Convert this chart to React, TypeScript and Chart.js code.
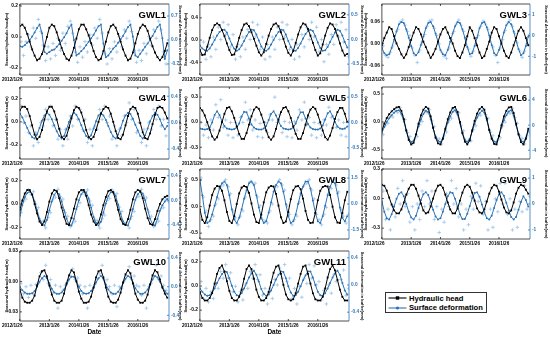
import React, { useEffect, useRef } from 'react';
import { Chart, registerables } from 'chart.js';
Chart.register(...registerables);

// ---------- shared axis data ----------
const dateTicks = [0, 12, 24, 36, 48];
const dateLabels = ['2012/1/26', '2013/1/26', '2014/1/26', '2015/1/26', '2016/1/26'];
const xMax = 60.7;

// ---------- GWL1 ----------
const gwl1Head = [0.07,0.08,0.06,0.02,-0.03,-0.08,-0.12,-0.15,-0.14,-0.11,-0.06,0.00,0.06,0.08,0.07,0.03,-0.02,-0.07,-0.11,-0.14,-0.15,-0.12,-0.07,-0.01,0.05,0.08,0.08,0.05,0.01,-0.04,-0.09,-0.13,-0.15,-0.14,-0.09,-0.03,0.03,0.07,0.08,0.06,0.02,-0.03,-0.08,-0.12,-0.15,-0.14,-0.10,-0.04,0.02,0.06,0.08,0.07,0.04,-0.01,-0.06,-0.10,-0.13,-0.15,-0.13,-0.09,-0.04];
const gwl1Def = [-0.18,-0.2,-0.15,-0.08,0.0,0.1,0.22,0.35,0.45,0.2,-0.35,-0.4,-0.35,-0.3,-0.28,-0.2,-0.12,-0.02,0.08,0.2,0.35,0.45,0.0,-0.45,-0.4,-0.32,-0.25,-0.15,-0.05,0.05,0.15,0.28,0.4,0.45,-0.1,-0.5,-0.45,-0.35,-0.25,-0.18,-0.08,0.02,0.12,0.25,0.38,0.45,0.1,-0.45,-0.5,-0.4,-0.3,-0.2,-0.1,0.0,0.12,0.25,0.38,0.45,0.05,-0.55,-0.3];
const gwl1Raw = [-0.05,-0.45,-0.05,0.15,-0.2,0.35,0.05,0.6,0.25,-0.15,-0.6,-0.2,-0.55,-0.1,-0.45,0.05,-0.3,0.2,-0.1,0.4,0.55,0.2,-0.35,-0.65,-0.2,-0.5,-0.05,-0.35,0.15,-0.15,0.35,0.05,0.6,0.2,-0.4,-0.7,-0.25,-0.55,-0.05,-0.35,0.1,-0.2,0.3,0.05,0.55,0.25,-0.3,-0.65,-0.3,-0.6,-0.1,-0.4,0.1,-0.15,0.3,0.05,0.55,0.3,-0.35,-0.7,-0.15];
const gwl1LeftTicks = [-0.2, 0, 0.2];
const gwl1LeftLabels = ['-0.2', '0.0', '0.2'];
const gwl1RightTicks = [-0.7, 0, 0.7];
const gwl1RightLabels = ['-0.7', '0.0', '0.7'];

// ---------- GWL2 ----------
const gwl2Head = [-0.18,-0.27,-0.26,-0.12,0.04,0.18,0.27,0.3,0.27,0.18,0.07,-0.06,-0.18,-0.27,-0.26,-0.12,0.04,0.18,0.28,0.3,0.25,0.14,0.02,-0.1,-0.22,-0.28,-0.22,-0.07,0.08,0.2,0.28,0.3,0.25,0.14,0.02,-0.12,-0.23,-0.28,-0.2,-0.05,0.1,0.23,0.3,0.28,0.2,0.08,-0.05,-0.18,-0.28,-0.24,-0.08,0.08,0.22,0.3,0.28,0.2,0.08,-0.06,-0.19,-0.28,-0.25];
const gwl2Def = [-0.12,-0.18,-0.22,-0.23,-0.18,-0.1,-0.01,0.08,0.15,0.19,0.2,0.14,0.02,-0.1,-0.19,-0.23,-0.2,-0.12,-0.03,0.07,0.15,0.2,0.19,0.1,-0.02,-0.14,-0.21,-0.23,-0.19,-0.1,-0.01,0.08,0.15,0.2,0.19,0.1,-0.03,-0.15,-0.22,-0.23,-0.17,-0.08,0.02,0.11,0.17,0.2,0.17,0.07,-0.06,-0.17,-0.23,-0.22,-0.15,-0.05,0.05,0.14,0.2,0.18,0.08,-0.05,-0.16];
const gwl2Raw = [-0.3,-0.05,-0.4,-0.1,-0.35,0.05,-0.2,0.25,0.0,0.35,0.1,0.3,-0.15,0.1,-0.4,-0.1,-0.35,0.05,-0.2,0.2,0.0,0.35,0.05,0.3,-0.2,0.05,-0.4,-0.1,-0.35,0.05,-0.2,0.25,0.0,0.35,0.05,0.3,-0.2,0.0,-0.4,-0.1,-0.35,0.1,-0.15,0.25,0.0,0.35,0.05,0.25,-0.25,0.0,-0.45,-0.1,-0.3,0.1,-0.1,0.3,0.05,0.35,-0.05,0.2,-0.35];
const gwl2LeftTicks = [-0.4, 0, 0.4];
const gwl2LeftLabels = ['-0.4', '0.0', '0.4'];
const gwl2RightTicks = [-0.5, 0, 0.5];
const gwl2RightLabels = ['-0.5', '0.0', '0.5'];

// ---------- GWL3 ----------
const gwl3Head = [-0.005,0.015,0.03,0.045,0.04,0.02,0.0,-0.015,-0.03,-0.04,-0.03,-0.01,0.01,0.03,0.045,0.04,0.025,0.005,-0.01,-0.025,-0.04,-0.03,-0.015,0.005,0.025,0.04,0.045,0.03,0.015,0.0,-0.02,-0.035,-0.04,-0.025,-0.005,0.02,0.045,0.035,0.015,-0.005,-0.025,-0.04,-0.035,-0.015,0.005,0.03,0.045,0.04,0.02,0.0,-0.02,-0.035,-0.04,-0.025,-0.005,0.015,0.035,0.045,0.035,0.015,-0.005];
const gwl3Def = [-0.6,-0.85,-0.95,-0.9,-0.6,-0.2,0.2,0.55,0.65,0.6,0.3,-0.1,-0.5,-0.85,-0.95,-0.8,-0.45,-0.05,0.35,0.6,0.65,0.45,0.1,-0.3,-0.7,-0.9,-0.95,-0.7,-0.3,0.1,0.45,0.65,0.6,0.3,-0.1,-0.55,-0.9,-0.85,-0.5,-0.1,0.35,0.6,0.65,0.4,0.0,-0.45,-0.85,-0.95,-0.7,-0.3,0.15,0.5,0.65,0.55,0.2,-0.25,-0.65,-0.95,-0.85,-0.5,-0.05];
const gwl3Raw = [-0.5,-0.95,-1.05,-0.8,-0.5,-0.3,0.3,0.65,0.75,0.5,0.2,0.0,-0.6,-0.95,-1.3,-0.7,-0.35,0.05,0.45,0.7,0.75,0.35,0.0,-0.4,-0.8,-1.0,-1.1,-0.6,-0.2,0.2,0.55,0.75,0.5,0.2,-0.2,-0.65,-1.0,-0.75,-0.4,0.0,0.45,0.7,0.55,0.3,-0.1,-0.55,-0.95,-1.3,-0.6,-0.2,0.25,0.6,0.75,0.45,0.1,-0.35,-0.75,-1.05,-0.75,-0.4,0.05];
const gwl3LeftTicks = [-0.06, 0, 0.06];
const gwl3LeftLabels = ['-0.06', '0.00', '0.06'];
const gwl3RightTicks = [-1, 0, 1];
const gwl3RightLabels = ['-1', '0', '1'];

// ---------- GWL4 ----------
const gwl4Head = [0.1,0.13,0.13,0.11,0.05,-0.03,-0.11,-0.15,-0.13,-0.07,0.02,0.09,0.13,0.13,0.09,0.02,-0.06,-0.13,-0.15,-0.12,-0.05,0.03,0.1,0.13,0.12,0.08,0.01,-0.07,-0.13,-0.15,-0.13,-0.07,0.0,0.07,0.11,0.13,0.12,0.07,0.0,-0.08,-0.14,-0.15,-0.11,-0.03,0.05,0.11,0.13,0.12,0.07,-0.01,-0.09,-0.14,-0.15,-0.1,-0.02,0.06,0.12,0.13,0.12,0.08,0.03];
const gwl4Def = [0.14,0.08,0.0,-0.08,-0.16,-0.22,-0.24,-0.18,-0.08,0.03,0.11,0.15,0.12,0.05,-0.04,-0.13,-0.2,-0.24,-0.2,-0.1,0.01,0.1,0.15,0.12,0.05,-0.04,-0.13,-0.2,-0.24,-0.19,-0.09,0.02,0.11,0.15,0.11,0.04,-0.05,-0.14,-0.21,-0.24,-0.18,-0.08,0.03,0.11,0.15,0.13,0.06,-0.03,-0.12,-0.2,-0.24,-0.19,-0.09,0.02,0.1,0.15,0.12,0.05,-0.04,-0.1,-0.05];
const gwl4Raw = [0.25,0.0,0.1,-0.15,-0.05,-0.35,-0.15,-0.3,0.0,-0.05,0.2,0.05,0.25,-0.05,0.05,-0.25,-0.1,-0.35,-0.1,-0.25,0.1,-0.05,0.25,0.05,0.2,-0.1,0.05,-0.3,-0.1,-0.35,-0.05,-0.1,0.2,0.05,0.25,0.0,0.1,-0.25,-0.05,-0.35,-0.1,-0.2,0.1,0.0,0.3,0.05,0.2,-0.15,0.0,-0.3,-0.1,-0.35,0.0,-0.1,0.2,0.05,0.25,-0.05,0.05,-0.2,0.05];
const gwl4LeftTicks = [-0.2, 0, 0.2];
const gwl4LeftLabels = ['-0.2', '0.0', '0.2'];
const gwl4RightTicks = [-0.4, 0, 0.4];
const gwl4RightLabels = ['-0.4', '0.0', '0.4'];

// ---------- GWL5 ----------
const gwl5Head = [0.17,0.14,0.08,0.0,-0.09,-0.17,-0.21,-0.18,-0.1,0.0,0.1,0.17,0.18,0.13,0.05,-0.05,-0.14,-0.2,-0.2,-0.13,-0.03,0.07,0.15,0.18,0.16,0.09,0.0,-0.1,-0.18,-0.21,-0.17,-0.08,0.03,0.12,0.17,0.18,0.13,0.05,-0.05,-0.14,-0.2,-0.2,-0.13,-0.03,0.08,0.15,0.18,0.16,0.09,0.0,-0.1,-0.18,-0.21,-0.16,-0.07,0.04,0.12,0.17,0.17,0.1,0.0];
const gwl5Def = [-0.12,-0.13,-0.14,-0.13,-0.1,0.0,0.15,0.22,0.15,0.02,-0.07,-0.12,-0.13,-0.14,-0.13,-0.1,-0.02,0.12,0.21,0.2,0.08,-0.04,-0.1,-0.13,-0.14,-0.14,-0.12,-0.07,0.05,0.17,0.22,0.14,0.02,-0.07,-0.12,-0.13,-0.14,-0.13,-0.1,-0.02,0.1,0.2,0.2,0.08,-0.03,-0.1,-0.13,-0.14,-0.14,-0.12,-0.06,0.06,0.18,0.22,0.13,0.01,-0.08,-0.12,-0.13,-0.12,-0.08];
const gwl5Raw = [0.0,-0.25,-0.05,-0.3,0.05,-0.15,0.35,0.1,0.45,-0.1,0.05,-0.25,0.0,-0.3,0.0,-0.25,0.1,0.0,0.4,0.05,0.25,-0.15,0.05,-0.28,-0.02,-0.3,0.0,-0.2,0.15,0.05,0.5,0.0,0.15,-0.2,0.02,-0.28,0.0,-0.3,0.02,-0.15,0.25,0.05,0.4,-0.05,0.1,-0.25,0.0,-0.3,-0.02,-0.25,0.05,-0.05,0.3,0.1,0.45,-0.1,0.05,-0.25,0.0,-0.28,0.02];
const gwl5LeftTicks = [-0.3, 0, 0.3];
const gwl5LeftLabels = ['-0.3', '0.0', '0.3'];
const gwl5RightTicks = [-0.5, 0, 0.5];
const gwl5RightLabels = ['-0.5', '0.0', '0.5'];

// ---------- GWL6 ----------
const gwl6Head = [-0.15,-0.03,0.07,0.14,0.19,0.23,0.26,0.27,0.2,0.05,-0.15,-0.32,-0.4,-0.37,-0.22,-0.03,0.12,0.22,0.27,0.24,0.1,-0.1,-0.28,-0.38,-0.4,-0.3,-0.12,0.05,0.17,0.25,0.27,0.18,0.0,-0.2,-0.35,-0.4,-0.33,-0.15,0.02,0.15,0.23,0.27,0.22,0.06,-0.14,-0.3,-0.39,-0.4,-0.25,-0.06,0.1,0.2,0.26,0.27,0.16,-0.03,-0.22,-0.36,-0.4,-0.3,-0.12];
const gwl6Def = [-1.2,-0.3,0.5,1.1,1.6,2.0,2.3,2.4,1.8,0.6,-0.9,-2.1,-2.7,-2.5,-1.5,-0.2,0.9,1.8,2.3,2.1,1.0,-0.5,-1.8,-2.5,-2.7,-2.0,-0.8,0.4,1.4,2.1,2.4,1.7,0.3,-1.2,-2.3,-2.7,-2.2,-1.0,0.2,1.2,1.9,2.3,2.0,0.8,-0.8,-2.0,-2.6,-2.7,-1.7,-0.4,0.8,1.6,2.2,2.4,1.5,0.0,-1.4,-2.4,-2.7,-2.0,-0.9];
const gwl6Raw = [-1.5,0.0,0.3,1.4,1.3,2.3,2.0,2.8,1.5,0.9,-1.2,-1.8,-3.0,-2.2,-1.8,0.1,0.6,2.1,2.0,2.5,0.7,-0.2,-2.1,-2.2,-3.0,-1.7,-1.1,0.7,1.1,2.4,2.1,2.0,0.0,-0.9,-2.6,-2.4,-2.5,-0.7,-0.1,1.5,1.6,2.6,1.7,1.1,-1.1,-1.7,-2.9,-2.4,-2.0,-0.1,0.5,1.9,1.9,2.7,1.2,0.3,-1.7,-2.1,-3.0,-1.7,-1.2];
const gwl6LeftTicks = [-0.5, 0, 0.5];
const gwl6LeftLabels = ['-0.5', '0.0', '0.5'];
const gwl6RightTicks = [-4, 0, 4];
const gwl6RightLabels = ['-4', '0', '4'];

// ---------- GWL7 ----------
const gwl7Head = [-0.05,0.03,0.09,0.12,0.12,0.08,0.0,-0.08,-0.15,-0.18,-0.15,-0.07,0.02,0.09,0.12,0.11,0.05,-0.03,-0.11,-0.17,-0.18,-0.12,-0.04,0.04,0.1,0.12,0.12,0.07,-0.01,-0.09,-0.15,-0.18,-0.16,-0.09,-0.01,0.06,0.11,0.12,0.1,0.03,-0.05,-0.13,-0.17,-0.18,-0.13,-0.05,0.04,0.1,0.12,0.11,0.05,-0.04,-0.12,-0.17,-0.18,-0.13,-0.06,0.0,0.04,0.06,0.07];
const gwl7Def = [-0.25,-0.08,0.05,0.12,0.14,0.1,-0.02,-0.16,-0.3,-0.38,-0.41,-0.32,-0.16,-0.02,0.09,0.14,0.1,-0.02,-0.16,-0.3,-0.39,-0.41,-0.3,-0.14,0.0,0.1,0.14,0.13,0.03,-0.12,-0.27,-0.37,-0.41,-0.35,-0.2,-0.05,0.07,0.13,0.14,0.07,-0.07,-0.22,-0.34,-0.4,-0.41,-0.3,-0.14,0.01,0.1,0.14,0.11,0.0,-0.15,-0.3,-0.39,-0.41,-0.3,-0.17,-0.08,-0.02,0.02];
const gwl7Raw = [-0.2,-0.02,0.02,0.17,0.1,0.14,-0.06,-0.12,-0.35,-0.34,-0.45,-0.28,-0.2,0.02,0.05,0.18,0.06,0.02,-0.2,-0.26,-0.43,-0.37,-0.34,-0.1,-0.04,0.14,0.1,0.17,-0.01,-0.08,-0.31,-0.33,-0.45,-0.3,-0.24,0.0,0.03,0.17,0.1,0.11,-0.11,-0.18,-0.38,-0.36,-0.45,-0.26,-0.18,0.05,0.06,0.18,0.07,0.04,-0.19,-0.26,-0.43,-0.37,-0.34,-0.13,-0.12,0.02,-0.02];
const gwl7LeftTicks = [-0.2, 0, 0.2];
const gwl7LeftLabels = ['-0.2', '0.0', '0.2'];
const gwl7RightTicks = [-0.4, 0, 0.4];
const gwl7RightLabels = ['-0.4', '0.0', '0.4'];

// ---------- GWL8 ----------
const gwl8Head = [-0.05,-0.25,-0.31,-0.2,0.02,0.22,0.34,0.39,0.38,0.3,0.12,-0.1,-0.27,-0.31,-0.18,0.05,0.25,0.36,0.39,0.37,0.26,0.06,-0.15,-0.29,-0.31,-0.15,0.08,0.27,0.36,0.39,0.38,0.24,0.02,-0.2,-0.31,-0.28,-0.1,0.14,0.31,0.38,0.39,0.33,0.15,-0.08,-0.25,-0.31,-0.3,-0.12,0.12,0.3,0.37,0.39,0.38,0.22,0.0,-0.2,-0.3,-0.31,-0.12,0.12,0.28];
const gwl8Def = [1.4,0.5,-0.5,-1.1,-1.0,-0.6,-0.1,0.4,0.9,1.2,1.3,1.1,0.5,-0.3,-0.9,-1.1,-0.8,-0.3,0.3,0.8,1.2,1.3,1.1,0.5,-0.2,-0.8,-1.1,-1.0,-0.5,0.1,0.7,1.1,1.3,1.2,0.7,0.0,-0.7,-1.1,-1.0,-0.6,0.0,0.6,1.0,1.3,1.3,0.9,0.2,-0.5,-1.0,-1.1,-0.7,-0.1,0.5,1.0,1.3,1.2,0.6,-0.2,-0.8,-1.0,-0.7];
const gwl8Raw = [1.5,0.4,-0.4,-1.3,-0.9,-0.7,0.0,0.3,1.0,1.1,1.4,1.0,0.6,-0.4,-0.8,-1.2,-0.7,-0.4,0.4,0.7,1.3,1.2,1.2,0.4,-0.1,-0.9,-1.0,-1.1,-0.4,0.0,0.8,1.0,1.4,1.1,0.8,-0.1,-0.6,-1.2,-0.9,-0.7,0.1,0.5,1.1,1.2,1.4,0.8,0.3,-0.6,-0.9,-1.2,-0.6,-0.2,0.6,0.9,1.4,1.1,0.7,-0.3,-0.7,-1.1,-0.6];
const gwl8LeftTicks = [-0.5, 0, 0.5];
const gwl8LeftLabels = ['-0.5', '0.0', '0.5'];
const gwl8RightTicks = [-1.5, 0, 1.5];
const gwl8RightLabels = ['-1.5', '0.0', '1.5'];

// ---------- GWL9 ----------
const gwl9Head = [0.14,0.13,0.08,0.01,-0.06,-0.12,-0.15,-0.15,-0.11,-0.04,0.04,0.1,0.14,0.14,0.1,0.03,-0.05,-0.12,-0.15,-0.14,-0.08,0.0,0.08,0.13,0.14,0.11,0.04,-0.04,-0.11,-0.15,-0.15,-0.1,-0.02,0.06,0.12,0.14,0.12,0.06,-0.02,-0.1,-0.14,-0.15,-0.11,-0.03,0.05,0.11,0.14,0.13,0.07,-0.01,-0.09,-0.14,-0.15,-0.12,-0.04,0.05,0.11,0.14,0.13,0.09,0.05];
const gwl9Def = [0.1,-0.3,-0.55,-0.6,-0.4,-0.1,0.2,0.4,0.45,0.3,0.0,-0.3,-0.52,-0.6,-0.45,-0.15,0.15,0.38,0.45,0.35,0.08,-0.22,-0.48,-0.6,-0.55,-0.3,0.0,0.3,0.45,0.42,0.2,-0.1,-0.4,-0.58,-0.58,-0.38,-0.08,0.22,0.42,0.45,0.28,-0.02,-0.32,-0.55,-0.6,-0.45,-0.15,0.15,0.38,0.45,0.32,0.05,-0.25,-0.5,-0.6,-0.5,-0.22,0.08,0.3,0.15,-0.1];
const gwl9Raw = [0.5,-0.6,-0.2,-1.0,-0.1,-0.5,0.6,0.0,0.9,-0.1,0.4,-0.7,-0.1,-1.0,0.0,-0.6,0.5,-0.1,0.9,0.0,0.5,-0.6,-0.1,-1.1,-0.2,-0.7,0.4,-0.1,0.9,0.0,0.6,-0.5,0.0,-1.0,-0.2,-0.8,0.3,-0.2,0.8,0.1,0.7,-0.4,0.1,-1.0,-0.2,-0.9,0.2,-0.3,0.8,0.0,0.8,-0.4,0.2,-1.0,-0.2,-0.9,0.1,-0.3,0.7,-0.2,0.3];
const gwl9LeftTicks = [-0.3, 0, 0.3];
const gwl9LeftLabels = ['-0.3', '0.0', '0.3'];
const gwl9RightTicks = [-1, 0, 1];
const gwl9RightLabels = ['-1', '0', '1'];

// ---------- GWL10 ----------
const gwl10Head = [-0.008,-0.016,-0.02,-0.021,-0.021,-0.019,-0.014,-0.004,0.005,0.01,0.011,0.005,-0.004,-0.013,-0.019,-0.021,-0.021,-0.019,-0.012,-0.002,0.006,0.011,0.009,0.0,-0.01,-0.017,-0.021,-0.021,-0.02,-0.015,-0.006,0.004,0.01,0.011,0.004,-0.006,-0.015,-0.02,-0.021,-0.021,-0.018,-0.011,-0.001,0.007,0.011,0.008,-0.002,-0.012,-0.018,-0.021,-0.021,-0.019,-0.013,-0.003,0.006,0.011,0.009,0.002,-0.006,-0.012,-0.016];
const gwl10Def = [0.0,-0.05,-0.08,-0.1,-0.1,-0.09,-0.06,0.0,0.07,0.12,0.15,0.12,0.05,-0.03,-0.08,-0.1,-0.1,-0.08,-0.04,0.03,0.1,0.14,0.14,0.08,0.0,-0.06,-0.09,-0.1,-0.09,-0.06,-0.01,0.06,0.12,0.15,0.11,0.03,-0.04,-0.08,-0.1,-0.1,-0.07,-0.02,0.05,0.11,0.15,0.13,0.06,-0.02,-0.07,-0.1,-0.1,-0.08,-0.04,0.03,0.1,0.15,0.13,0.07,0.0,-0.06,-0.1];
const gwl10Raw = [0.05,-0.1,0.0,-0.15,0.02,-0.1,0.03,0.05,0.2,0.1,0.3,0.05,0.1,-0.08,0.02,-0.3,0.0,-0.05,0.02,0.08,0.15,0.25,0.1,0.12,0.02,-0.1,0.0,-0.3,0.02,-0.05,0.03,0.1,0.18,0.3,0.08,0.1,0.0,-0.1,0.02,-0.28,0.0,-0.02,0.08,0.15,0.28,0.1,0.15,0.02,0.0,-0.12,0.02,-0.3,0.0,0.05,0.15,0.3,0.1,0.15,0.02,-0.05,-0.1];
const gwl10LeftTicks = [-0.03, 0, 0.03];
const gwl10LeftLabels = ['-0.03', '0.00', '0.03'];
const gwl10RightTicks = [-0.4, 0, 0.4];
const gwl10RightLabels = ['-0.4', '0.0', '0.4'];

// ---------- GWL11 ----------
const gwl11Head = [-0.05,-0.1,-0.12,-0.12,-0.1,-0.06,0.02,0.1,0.15,0.17,0.12,0.04,-0.04,-0.1,-0.12,-0.12,-0.09,-0.03,0.06,0.14,0.17,0.14,0.06,-0.03,-0.09,-0.12,-0.12,-0.1,-0.05,0.03,0.11,0.16,0.17,0.1,0.01,-0.07,-0.11,-0.12,-0.11,-0.06,0.02,0.1,0.16,0.17,0.1,0.02,-0.06,-0.11,-0.12,-0.12,-0.09,-0.02,0.07,0.14,0.17,0.13,0.05,-0.03,-0.09,-0.12,-0.12];
const gwl11Def = [-0.05,-0.1,-0.14,-0.16,-0.15,-0.11,-0.05,0.03,0.1,0.16,0.2,0.19,0.1,-0.01,-0.1,-0.15,-0.16,-0.12,-0.05,0.03,0.11,0.17,0.21,0.15,0.05,-0.06,-0.13,-0.16,-0.14,-0.08,0.0,0.08,0.15,0.2,0.19,0.1,-0.02,-0.11,-0.16,-0.15,-0.1,-0.02,0.07,0.14,0.2,0.2,0.11,0.0,-0.1,-0.15,-0.16,-0.12,-0.05,0.03,0.11,0.17,0.21,0.15,0.03,-0.08,-0.14];
const gwl11Raw = [0.05,-0.2,-0.05,-0.25,-0.1,-0.2,0.02,-0.05,0.2,0.1,0.3,0.1,0.18,-0.1,-0.02,-0.25,-0.1,-0.22,0.0,-0.05,0.2,0.1,0.3,0.08,0.15,-0.15,-0.05,-0.28,-0.05,-0.2,0.08,0.0,0.25,0.1,0.3,0.05,0.1,-0.2,-0.05,-0.28,-0.02,-0.18,0.1,0.02,0.3,0.1,0.28,0.0,0.05,-0.22,-0.08,-0.28,0.0,-0.12,0.15,0.05,0.32,0.08,0.22,-0.15,-0.05];
const gwl11LeftTicks = [-0.2, 0, 0.2];
const gwl11LeftLabels = ['-0.2', '0.0', '0.2'];
const gwl11RightTicks = [-0.4, 0, 0.4];
const gwl11RightLabels = ['-0.4', '0.0', '0.4'];

// ---------- styling / layout ----------
const BLUE = '#2e75b6';
const LIGHT = '#a4c8ec';
const FONT = '"Liberation Sans", Arial, sans-serif';
const TOP_PAD = 6;
const LW = 19;
const COLS = [
  { left: 19, width: 150, rw: 16, rpad: 2, lpad: 3.5 },
  { left: 199, width: 150, rw: 17, rpad: 1, lpad: 2.3 },
  { left: 381, width: 149, rw: 19, rpad: 0, lpad: 0.5 },
];
const ROWS = [
  { top: 4, height: 71, xh: 9 },
  { top: 87, height: 72, xh: 9 },
  { top: 169, height: 70, xh: 9 },
  { top: 251, height: 70, xh: 16 },
];
// the first date label sits left of its tick in the reference
const FIRST_LABEL_PAD = '\u0020'.repeat(12);

type PanelCfg = {
  name: string; row: number; col: number;
  head: number[]; def: number[]; raw: number[];
  lMin: number; lMax: number; lTicks: number[]; lLabels: string[];
  rMin: number; rMax: number; rTicks: number[]; rLabels: string[];
};

const panels: PanelCfg[] = [
  { name: 'GWL1', row: 0, col: 0, head: gwl1Head, def: gwl1Def, raw: gwl1Raw, lMin: -0.245, lMax: 0.213, lTicks: gwl1LeftTicks, lLabels: gwl1LeftLabels, rMin: -1.02, rMax: 1.05, rTicks: gwl1RightTicks, rLabels: gwl1RightLabels },
  { name: 'GWL2', row: 0, col: 1, head: gwl2Head, def: gwl2Def, raw: gwl2Raw, lMin: -0.63, lMax: 0.65, lTicks: gwl2LeftTicks, lLabels: gwl2LeftLabels, rMin: -0.72, rMax: 0.72, rTicks: gwl2RightTicks, rLabels: gwl2RightLabels },
  { name: 'GWL3', row: 0, col: 2, head: gwl3Head, def: gwl3Def, raw: gwl3Raw, lMin: -0.087, lMax: 0.109, lTicks: gwl3LeftTicks, lLabels: gwl3LeftLabels, rMin: -1.9, rMax: 1.52, rTicks: gwl3RightTicks, rLabels: gwl3RightLabels },
  { name: 'GWL4', row: 1, col: 0, head: gwl4Head, def: gwl4Def, raw: gwl4Raw, lMin: -0.32, lMax: 0.3, lTicks: gwl4LeftTicks, lLabels: gwl4LeftLabels, rMin: -0.55, rMax: 0.54, rTicks: gwl4RightTicks, rLabels: gwl4RightLabels },
  { name: 'GWL5', row: 1, col: 1, head: gwl5Head, def: gwl5Def, raw: gwl5Raw, lMin: -0.44, lMax: 0.42, lTicks: gwl5LeftTicks, lLabels: gwl5LeftLabels, rMin: -0.72, rMax: 0.7, rTicks: gwl5RightTicks, rLabels: gwl5RightLabels },
  { name: 'GWL6', row: 1, col: 2, head: gwl6Head, def: gwl6Def, raw: gwl6Raw, lMin: -0.66, lMax: 0.625, lTicks: gwl6LeftTicks, lLabels: gwl6LeftLabels, rMin: -5.4, rMax: 6.1, rTicks: gwl6RightTicks, rLabels: gwl6RightLabels },
  { name: 'GWL7', row: 2, col: 0, head: gwl7Head, def: gwl7Def, raw: gwl7Raw, lMin: -0.3, lMax: 0.3, lTicks: gwl7LeftTicks, lLabels: gwl7LeftLabels, rMin: -0.63, rMax: 0.51, rTicks: gwl7RightTicks, rLabels: gwl7RightLabels },
  { name: 'GWL8', row: 2, col: 1, head: gwl8Head, def: gwl8Def, raw: gwl8Raw, lMin: -0.61, lMax: 0.71, lTicks: gwl8LeftTicks, lLabels: gwl8LeftLabels, rMin: -2.02, rMax: 2.02, rTicks: gwl8RightTicks, rLabels: gwl8RightLabels },
  { name: 'GWL9', row: 2, col: 2, head: gwl9Head, def: gwl9Def, raw: gwl9Raw, lMin: -0.41, lMax: 0.3, lTicks: gwl9LeftTicks, lLabels: gwl9LeftLabels, rMin: -1.35, rMax: 1.35, rTicks: gwl9RightTicks, rLabels: gwl9RightLabels },
  { name: 'GWL10', row: 3, col: 0, head: gwl10Head, def: gwl10Def, raw: gwl10Raw, lMin: -0.039, lMax: 0.03, lTicks: gwl10LeftTicks, lLabels: gwl10LeftLabels, rMin: -0.48, rMax: 0.5, rTicks: gwl10RightTicks, rLabels: gwl10RightLabels },
  { name: 'GWL11', row: 3, col: 1, head: gwl11Head, def: gwl11Def, raw: gwl11Raw, lMin: -0.29, lMax: 0.29, lTicks: gwl11LeftTicks, lLabels: gwl11LeftLabels, rMin: -0.53, rMax: 0.5, rTicks: gwl11RightTicks, rLabels: gwl11RightLabels },
];

function Panel({ cfg }: { cfg: PanelCfg }) {
  const ref = useRef<HTMLCanvasElement>(null);
  const col = COLS[cfg.col];
  const row = ROWS[cfg.row];
  const cw = LW + col.width + col.rw;
  const ch = TOP_PAD + row.height + row.xh;
  const cx = col.left - LW;
  const cy = row.top - TOP_PAD;
  const isBottom = cfg.row === 3;

  useEffect(() => {
    if (!ref.current) return;
    const boxPlugin = {
      id: 'boxFrame',
      afterDatasetsDraw(chart: any) {
        const { ctx, chartArea } = chart;
        const { left, top, right, bottom } = chartArea;
        ctx.save();
        ctx.lineWidth = 0.8;
        ctx.strokeStyle = '#222';
        ctx.beginPath();
        ctx.moveTo(right, top); ctx.lineTo(left, top); ctx.lineTo(left, bottom); ctx.lineTo(right, bottom);
        ctx.stroke();
        const xs = chart.scales.x;
        dateTicks.forEach((v) => {
          const px = xs.getPixelForValue(v);
          ctx.beginPath(); ctx.moveTo(px, bottom); ctx.lineTo(px, bottom - 2); ctx.moveTo(px, top); ctx.lineTo(px, top + 2); ctx.stroke();
        });
        const ys = chart.scales.y;
        cfg.lTicks.forEach((v) => {
          const py = ys.getPixelForValue(v);
          ctx.beginPath(); ctx.moveTo(left, py); ctx.lineTo(left + 2, py); ctx.stroke();
        });
        ctx.strokeStyle = BLUE;
        ctx.beginPath(); ctx.moveTo(right, top); ctx.lineTo(right, bottom); ctx.stroke();
        const y1 = chart.scales.y1;
        cfg.rTicks.forEach((v) => {
          const py = y1.getPixelForValue(v);
          ctx.beginPath(); ctx.moveTo(right, py); ctx.lineTo(right - 2, py); ctx.stroke();
        });
        ctx.fillStyle = '#000';
        ctx.font = `bold 9.5px ${FONT}`;
        ctx.textAlign = 'right';
        ctx.textBaseline = 'alphabetic';
        ctx.fillText(cfg.name, right - 3, top + 14);
        ctx.restore();
      },
    };

    const chart = new Chart(ref.current, {
      type: 'line',
      data: {
        datasets: [
          {
            label: 'Hydraulic head',
            data: cfg.head.map((v, i) => ({ x: i, y: v })),
            yAxisID: 'y',
            borderColor: '#000',
            backgroundColor: '#000',
            borderWidth: 1,
            pointStyle: 'rect',
            pointRadius: 1.3,
            pointBorderWidth: 0,
            tension: 0,
            order: 1,
          },
          {
            label: 'Surface deformation',
            data: cfg.def.map((v, i) => ({ x: i, y: v })),
            yAxisID: 'y1',
            borderColor: BLUE,
            backgroundColor: BLUE,
            borderWidth: 1,
            pointStyle: 'circle',
            pointRadius: 1,
            pointBorderWidth: 0,
            tension: 0,
            order: 2,
          },
          {
            label: 'raw',
            data: cfg.raw.map((v, i) => ({ x: i + 0.5, y: v })),
            yAxisID: 'y1',
            showLine: false,
            borderColor: LIGHT,
            backgroundColor: LIGHT,
            pointStyle: 'cross',
            pointRadius: 1.8,
            pointBorderWidth: 0.9,
            order: 3,
          },
        ],
      },
      options: {
        animation: false,
        responsive: false,
        maintainAspectRatio: false,
        events: [],
        layout: { padding: { top: TOP_PAD, left: 0, right: 0, bottom: 0 } },
        plugins: { legend: { display: false }, tooltip: { enabled: false }, title: { display: false } },
        scales: {
          x: {
            type: 'linear',
            min: 0,
            max: xMax,
            grid: { display: false, drawTicks: false },
            border: { display: false },
            afterBuildTicks: (s: any) => { s.ticks = dateTicks.map((v) => ({ value: v })); },
            afterFit: (s: any) => { s.height = row.xh; },
            ticks: {
              autoSkip: false,
              maxRotation: 0,
              padding: 2,
              color: '#000',
              font: { family: FONT, size: 4.6, weight: 'bold' },
              callback: (_v: any, i: number) => (i === 0 ? dateLabels[i] + FIRST_LABEL_PAD : dateLabels[i]),
            },
            title: {
              display: isBottom,
              text: 'Date',
              color: '#000',
              padding: { top: 0, bottom: 0.5 },
              font: { family: FONT, size: 6.5, weight: 'bold' },
            },
          },
          y: {
            type: 'linear',
            position: 'left',
            min: cfg.lMin,
            max: cfg.lMax,
            grid: { display: false, drawTicks: false },
            border: { display: false },
            afterBuildTicks: (s: any) => { s.ticks = cfg.lTicks.map((v) => ({ value: v })); },
            afterFit: (s: any) => { s.width = LW; },
            ticks: {
              padding: 2,
              color: '#000',
              font: { family: FONT, size: 4.8, weight: 'bold' },
              callback: (_v: any, i: number) => cfg.lLabels[i],
            },
            title: {
              display: true,
              text: 'Seasonal hydraulic head(m)',
              color: '#000',
              padding: { top: col.lpad, bottom: 0 },
              font: { family: FONT, size: 4, weight: 'bold' },
            },
          },
          y1: {
            type: 'linear',
            position: 'right',
            min: cfg.rMin,
            max: cfg.rMax,
            grid: { display: false, drawTicks: false },
            border: { display: false },
            afterBuildTicks: (s: any) => { s.ticks = cfg.rTicks.map((v) => ({ value: v })); },
            afterFit: (s: any) => { s.width = col.rw; },
            ticks: {
              padding: 2,
              color: BLUE,
              font: { family: FONT, size: 4.8, weight: 'bold' },
              callback: (_v: any, i: number) => cfg.rLabels[i],
            },
            title: {
              display: true,
              text: 'Seasonal deformation in buffer(mm)',
              color: '#000',
              padding: { top: col.rpad, bottom: 0 },
              font: { family: FONT, size: 4, weight: 'bold' },
            },
          },
        },
      },
      plugins: [boxPlugin],
    } as any);
    return () => chart.destroy();
  }, []);

  return (
    <canvas
      ref={ref}
      width={cw}
      height={ch}
      style={{ position: 'absolute', left: cx, top: cy, width: cw, height: ch }}
    />
  );
}

function LegendSwatch({ color, square }: { color: string; square: boolean }) {
  return (
    <svg width={19} height={8} style={{ display: 'block', marginRight: 2 }}>
      <line x1={0.5} y1={4} x2={18.5} y2={4} stroke={color} strokeWidth={1.1} />
      {square ? (
        <rect x={7.8} y={2.3} width={3.4} height={3.4} fill={color} />
      ) : (
        <circle cx={9.5} cy={4} r={1.6} fill={color} />
      )}
    </svg>
  );
}

export default function App() {
  return (
    <div
      style={{
        position: 'fixed',
        left: 0,
        top: 0,
        width: 550,
        height: 338,
        background: '#fff',
        overflow: 'hidden',
      }}
    >
      {panels.map((p) => (
        <Panel key={p.name} cfg={p} />
      ))}
      <div
        style={{
          position: 'absolute',
          left: 385,
          top: 292,
          width: 102,
          height: 21,
          boxSizing: 'border-box',
          border: '1px solid #333',
          background: '#fff',
          fontFamily: FONT,
          fontWeight: 'bold',
          fontSize: 7.6,
          lineHeight: '9px',
          color: '#000',
          padding: '0.5px 0 0 2px',
        }}
      >
        <div style={{ display: 'flex', alignItems: 'center', height: 9.5 }}>
          <LegendSwatch color="#000" square={true} />
          <span>Hydraulic head</span>
        </div>
        <div style={{ display: 'flex', alignItems: 'center', height: 9.5 }}>
          <LegendSwatch color={BLUE} square={false} />
          <span>Surface deformation</span>
        </div>
      </div>
    </div>
  );
}
